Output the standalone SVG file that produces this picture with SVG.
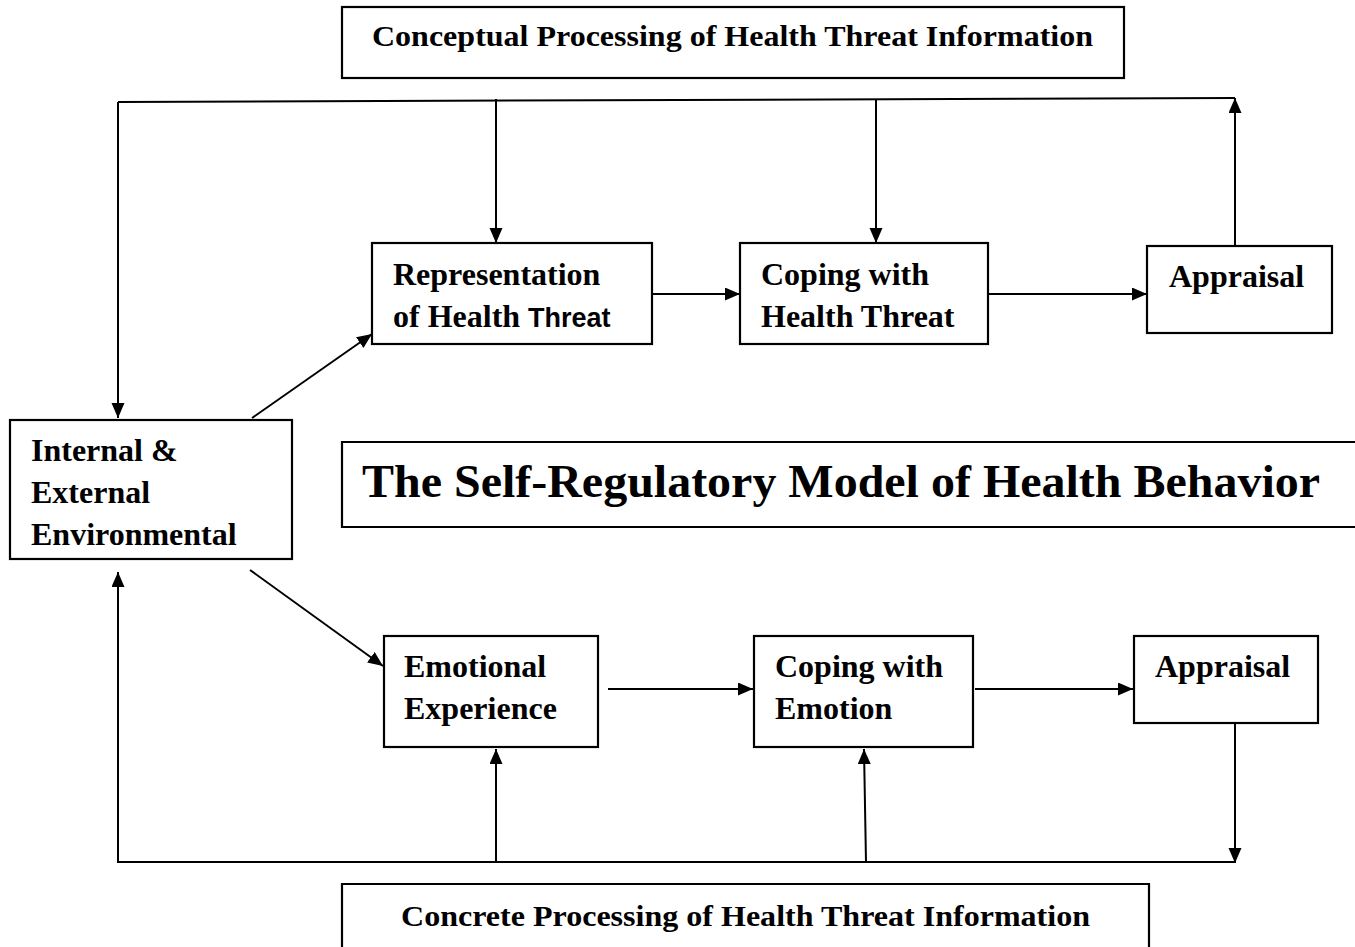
<svg xmlns="http://www.w3.org/2000/svg" width="1355" height="947" viewBox="0 0 1355 947">
<style>
.box{fill:#fff;stroke:#000;stroke-width:2.2}
.t{font-family:"Liberation Serif","Times New Roman",serif;font-weight:bold;font-size:32px;fill:#000}
.big{font-size:46px}
.hdr{font-size:30px}
.ln{fill:none;stroke:#000;stroke-width:2}
.s{font-family:"Liberation Sans",Arial,sans-serif;font-size:27px}
</style>
<defs>
<marker id="ah" markerUnits="userSpaceOnUse" markerWidth="16" markerHeight="14" refX="15" refY="6.5" orient="auto">
<path d="M0,0 L15,6.5 L0,13 z" fill="#000"/>
</marker>
</defs>
<rect width="1355" height="947" fill="#fff"/>
<g id="connectors">
<path class="ln" d="M118,102 L1235,98"/>
<path class="ln" d="M118,102 L118,418" marker-end="url(#ah)"/>
<path class="ln" d="M496,99 L496,243" marker-end="url(#ah)"/>
<path class="ln" d="M876,99 L876,243" marker-end="url(#ah)"/>
<path class="ln" d="M1235,246 L1235,98" marker-end="url(#ah)"/>
<path class="ln" d="M652,294 L740,294" marker-end="url(#ah)"/>
<path class="ln" d="M988,294 L1147,294" marker-end="url(#ah)"/>
<path class="ln" d="M252,418 L372,334" marker-end="url(#ah)"/>
<path class="ln" d="M250,570 L383,666" marker-end="url(#ah)"/>
<path class="ln" d="M608,689 L753,689" marker-end="url(#ah)"/>
<path class="ln" d="M975,689 L1133,689" marker-end="url(#ah)"/>
<path class="ln" d="M1235,723 L1235,863" marker-end="url(#ah)"/>
<path class="ln" d="M1235,862 L118,862 L118,572" marker-end="url(#ah)"/>
<path class="ln" d="M496,862 L496,749" marker-end="url(#ah)"/>
<path class="ln" d="M866,862 L864,749" marker-end="url(#ah)"/>
</g>
<g id="conceptual">
<rect class="box" x="342" y="7" width="782" height="71"/>
<text class="t hdr" x="372" y="46" textLength="721" lengthAdjust="spacingAndGlyphs">Conceptual Processing of Health Threat Information</text>
</g>
<g id="representation">
<rect class="box" x="372" y="243" width="280" height="101"/>
<text class="t" x="393" y="285">Representation</text>
<text class="t" x="393" y="327">of Health <tspan class="s">Threat</tspan></text>
</g>
<g id="coping-threat">
<rect class="box" x="740" y="243" width="248" height="101"/>
<text class="t" x="761" y="285">Coping with</text>
<text class="t" x="761" y="327">Health Threat</text>
</g>
<g id="appraisal-top">
<rect class="box" x="1147" y="246" width="185" height="87"/>
<text class="t" x="1169" y="287">Appraisal</text>
</g>
<g id="environment">
<rect class="box" x="10" y="420" width="282" height="139"/>
<text class="t" x="31" y="461">Internal &amp;</text>
<text class="t" x="31" y="503">External</text>
<text class="t" x="31" y="545">Environmental</text>
</g>
<g id="title">
<path class="ln" d="M1355,442 L342,442 L342,527 L1355,527" style="stroke-width:2.2"/>
<text class="t big" x="362" y="497" textLength="958" lengthAdjust="spacingAndGlyphs">The Self-Regulatory Model of Health Behavior</text>
</g>
<g id="emotional">
<rect class="box" x="384" y="636" width="214" height="111"/>
<text class="t" x="404" y="677">Emotional</text>
<text class="t" x="404" y="719">Experience</text>
</g>
<g id="coping-emotion">
<rect class="box" x="754" y="636" width="219" height="111"/>
<text class="t" x="775" y="677">Coping with</text>
<text class="t" x="775" y="719">Emotion</text>
</g>
<g id="appraisal-bottom">
<rect class="box" x="1134" y="636" width="184" height="87"/>
<text class="t" x="1155" y="677">Appraisal</text>
</g>
<g id="concrete">
<path class="ln" d="M342,950 L342,884 L1149,884 L1149,950" style="stroke-width:2.2"/>
<text class="t hdr" x="401" y="926" textLength="689" lengthAdjust="spacingAndGlyphs">Concrete Processing of Health Threat Information</text>
</g>
</svg>
